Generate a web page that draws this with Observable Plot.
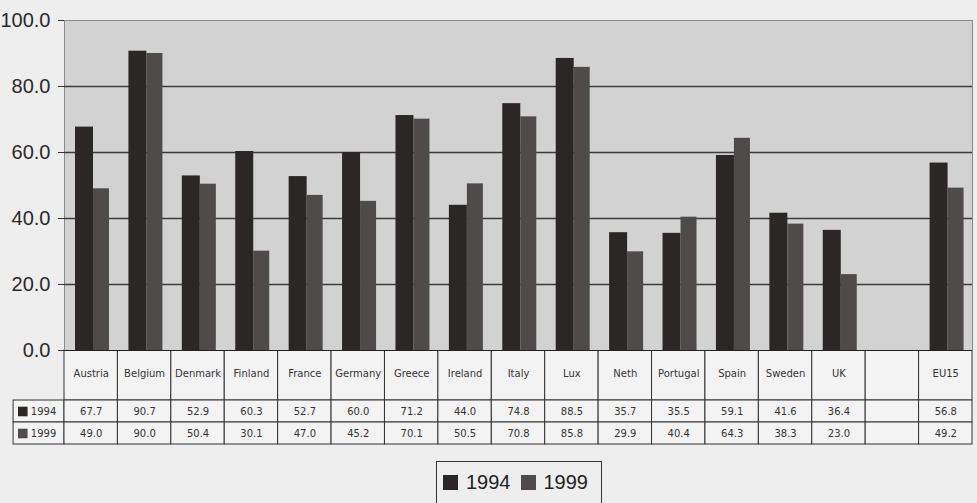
<!DOCTYPE html>
<html><head><meta charset="utf-8">
<script src="https://cdn.jsdelivr.net/npm/d3@7"></script>
<script src="https://cdn.jsdelivr.net/npm/@observablehq/plot@0.6"></script>
<style>
body{margin:0;background:#eeeeee;}
#wrap{position:relative;width:977px;height:503px;overflow:hidden;background:#eeeeee;}
#wrap svg{position:absolute;left:0;}
#legend{position:absolute;left:436px;top:461px;width:166px;height:52px;border:1px solid #333;box-sizing:border-box;
  font:20px "Liberation Sans",Arial,sans-serif;color:#222;display:flex;align-items:flex-start;padding:9px 0 0 6px;line-height:23px;}
#legend .sw{display:inline-block;width:15px;height:15px;margin:4px 8px 0 0;}
#legend .it{display:flex;margin-right:10px;}
</style>
</head><body>
<div id="wrap"></div>
<script>
const countries = ["Austria","Belgium","Denmark","Finland","France","Germany","Greece","Ireland","Italy","Lux","Neth","Portugal","Spain","Sweden","UK","","EU15"];
const v1994 = [67.7,90.7,52.9,60.3,52.7,60.0,71.2,44.0,74.8,88.5,35.7,35.5,59.1,41.6,36.4,null,56.8];
const v1999 = [49.0,90.0,50.4,30.1,47.0,45.2,70.1,50.5,70.8,85.8,29.9,40.4,64.3,38.3,23.0,null,49.2];
const years = ["1994","1999"];
const yTicks = [0,20,40,60,80,100];
const colors = ["#2c2727","#4f4b4b"];

const series = [v1994, v1999];
const rows = years.map((yr, i) => countries.map((c, j) => ({country: c, year: yr, value: series[i][j]})));
const x0 = 64, x1 = 972;
const bw = (x1 - x0) / countries.length;
const wrap = document.getElementById("wrap");
const font = '"Liberation Sans", Arial, sans-serif';
const tfont = '"DejaVu Sans", Verdana, sans-serif';

const chart = Plot.plot({
  width: 977, height: 352,
  marginLeft: x0, marginRight: 977 - x1, marginTop: 20, marginBottom: 2,
  style: {background: "transparent", fontFamily: font, color: "#2a2a2a", overflow: "visible"},
  x: {domain: countries, padding: 0, round: false, axis: null},
  y: {domain: [0, 100], axis: null},
  marks: [
    Plot.frame({fill: "#d2d2d2", stroke: "#8a8a8a"}),
    Plot.gridY([20, 40, 60, 80], {stroke: "#3c3c3c", strokeOpacity: 1, strokeWidth: 1.3}),
    Plot.barY(rows[0].filter(d => d.value != null), {x: "country", y: "value", fill: colors[0], insetLeft: 11, insetRight: bw - 29}),
    Plot.barY(rows[1].filter(d => d.value != null), {x: "country", y: "value", fill: colors[1], insetLeft: 29, insetRight: bw - 45}),
    Plot.ruleY([0], {stroke: "#222", strokeWidth: 1.2}),
    Plot.axisY({ticks: yTicks, tickFormat: d => d.toFixed(1), fontSize: 20, tickSize: 6, tickPadding: 8, stroke: "#333", fill: "#2a2a2a", label: null})
  ]
});
chart.style.top = "0px";

const tx = {domain: ["__label", ...countries], range: [x0 - bw, x1], padding: 0, round: false, axis: null};

const header = Plot.plot({
  width: 977, height: 51, marginTop: 0, marginBottom: 1, marginLeft: 0, marginRight: 0,
  style: {background: "transparent", fontFamily: tfont, overflow: "visible"},
  x: tx,
  marks: [
    Plot.cell(countries, {x: d => d, fill: "#f3f3f3", stroke: "#333", strokeWidth: 1}),
    Plot.text(countries, {x: d => d, text: d => d, fontSize: 10, fill: "#333", dy: -2})
  ]
});
header.style.top = "350px";
wrap.appendChild(header);
wrap.appendChild(chart);

const labelRows = years.map(y => ({country: "__label", year: y}));
const table = Plot.plot({
  width: 977, height: 45, marginTop: 0, marginBottom: 1, marginLeft: 0, marginRight: 0,
  style: {background: "transparent", fontFamily: tfont, overflow: "visible"},
  x: tx,
  y: {domain: years, padding: 0, round: false, axis: null},
  marks: [
    Plot.cell(labelRows, {x: "country", y: "year", fill: "#f3f3f3", stroke: "#333", insetLeft: 2.5}),
    Plot.cell(rows.flat(), {x: "country", y: "year", fill: "#f3f3f3", stroke: "#333"}),
    Plot.text(rows.flat().filter(d => d.value != null), {x: "country", y: "year", text: d => d.value.toFixed(1), fontSize: 10, fill: "#333"}),
    Plot.dot(labelRows, {x: "country", y: "year", symbol: "square", r: 5.4, fill: (d, i) => colors[i], dx: -15}),
    Plot.text(labelRows, {x: "country", y: "year", text: "year", fontSize: 10, fill: "#333", textAnchor: "start", dx: -7})
  ]
});
table.style.top = "400px";
wrap.appendChild(table);

const legend = document.createElement("div");
legend.id = "legend";
years.forEach((y, i) => {
  const it = document.createElement("span");
  it.className = "it";
  const sw = document.createElement("span");
  sw.className = "sw";
  sw.style.background = colors[i];
  it.appendChild(sw);
  it.appendChild(document.createTextNode(y));
  legend.appendChild(it);
});
wrap.appendChild(legend);
</script>
</body></html>
